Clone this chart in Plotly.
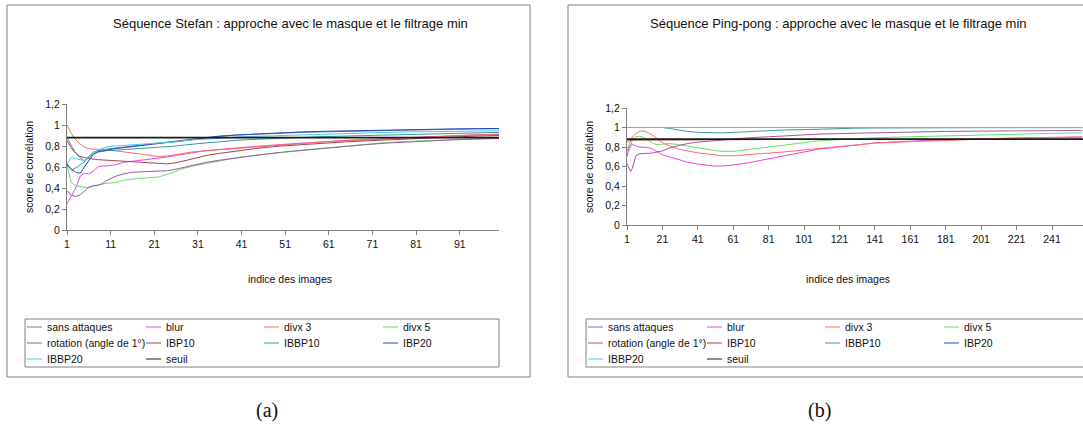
"""Séquences Stefan / Ping-pong : score de corrélation, masque + filtrage min."""
import plotly.graph_objects as go

W, H = 1083, 434

NAMES = ["sans attaques", "blur", "divx 3", "divx 5", "rotation (angle de 1°)",
         "IBP10", "IBBP10", "IBP20", "IBBP20", "seuil"]
COLORS = ["#7474b4", "#ee44dd", "#ff6a6a", "#66e066", "#a05aa0",
          "#a04848", "#3a9a9a", "#2a44cc", "#40d0e0", "#1a1a1a"]

Y_TICK_VALS = [0, 0.2, 0.4, 0.6, 0.8, 1.0, 1.2]
Y_TICK_TEXT = ["0", "0,2", "0,4", "0,6", "0,8", "1", "1,2"]

# ---- (a) Stefan ----
A_TICKS = [1, 11, 21, 31, 41, 51, 61, 71, 81, 91]
A_X = [1, 2, 3, 4, 5, 6, 7, 8, 9, 10, 12, 14, 16, 18, 20, 22, 24, 26, 28, 30,
       33, 36, 40, 45, 50, 55, 60, 65, 70, 75, 80, 85, 90, 95, 100]
A_SANS = [.88, .80, .73, .69, .66, .70, .74, .755, .765, .77, .78, .79, .80, .81, .82, .83, .84, .85, .86, .87,
          .885, .895, .905, .915, .925, .93, .935, .94, .945, .95, .955, .958, .96, .963, .965]
A_BLUR = [.25, .33, .40, .51, .54, .535, .56, .60, .61, .61, .62, .645, .655, .66, .675, .685, .695, .71, .725, .74,
          .757, .768, .784, .799, .814, .829, .844, .854, .864, .874, .884, .894, .899, .908, .913]
A_DIVX3 = [1.0, .92, .86, .82, .79, .775, .77, .77, .77, .765, .755, .745, .735, .725, .71, .70, .705, .72, .735, .745,
           .755, .765, .78, .795, .81, .825, .84, .85, .86, .87, .88, .89, .895, .905, .91]
A_DIVX5 = [.615, .45, .42, .415, .41, .40, .42, .43, .435, .445, .45, .475, .485, .49, .495, .505, .53, .56, .59, .61,
           .635, .66, .69, .715, .74, .76, .78, .80, .82, .835, .845, .855, .862, .868, .875]
A_ROT = [.375, .33, .32, .335, .37, .41, .42, .425, .44, .47, .51, .535, .55, .555, .56, .56, .565, .58, .60, .62,
         .645, .665, .69, .715, .74, .76, .78, .795, .815, .83, .842, .852, .86, .866, .872]
A_IBP10 = [.85, .78, .73, .70, .69, .68, .675, .67, .67, .665, .66, .655, .65, .64, .635, .63, .63, .64, .66, .685,
           .71, .73, .755, .78, .80, .815, .83, .84, .85, .86, .87, .88, .89, .895, .90]
A_IBBP10 = [.62, .57, .59, .62, .65, .69, .72, .74, .75, .755, .76, .765, .77, .775, .78, .785, .79, .80, .81, .82,
            .83, .84, .855, .865, .875, .883, .89, .895, .90, .905, .91, .915, .92, .925, .93]
A_IBP20 = [.63, .58, .55, .54, .60, .66, .72, .745, .755, .76, .775, .785, .795, .805, .815, .825, .835, .845, .855, .865,
           .88, .892, .905, .917, .928, .935, .94, .945, .95, .953, .956, .96, .963, .965, .967]
A_IBBP20 = [.63, .69, .68, .67, .66, .69, .73, .76, .775, .79, .80, .805, .81, .815, .82, .825, .83, .84, .85, .86,
            .865, .875, .885, .893, .90, .908, .915, .92, .925, .93, .935, .938, .941, .943, .945]
A_SEUIL_X = [1, 100]
A_SEUIL = [0.88, 0.88]

# ---- (b) Ping-pong ----
B_TICKS = [1, 21, 41, 61, 81, 101, 121, 141, 161, 181, 201, 221, 241]
B_X = [1, 2, 3, 4, 5, 6, 8, 10, 12, 14, 16, 18, 21, 25, 30, 35, 41, 50, 55, 61,
       70, 81, 90, 101, 110, 121, 130, 141, 161, 181, 201, 221, 241, 258]
B_SANS = [1.0] * 34
B_BLUR = [.70, .78, .82, .825, .82, .81, .80, .80, .795, .79, .775, .75, .72, .70, .67, .645, .625, .605, .605, .615,
          .64, .68, .715, .755, .78, .80, .822, .842, .86, .874, .884, .893, .898, .904]
B_DIVX3 = [.77, .82, .87, .90, .92, .94, .96, .965, .955, .935, .915, .885, .845, .81, .78, .76, .74, .72, .71, .71,
           .72, .735, .75, .77, .785, .805, .825, .84, .855, .87, .88, .89, .895, .90]
B_DIVX5 = [.77, .75, .80, .87, .89, .905, .91, .90, .88, .86, .835, .825, .83, .835, .825, .81, .785, .765, .755, .755,
           .775, .80, .825, .85, .865, .875, .885, .895, .905, .915, .925, .935, .94, .945]
B_ROT = [.63, .58, .55, .58, .66, .71, .73, .735, .735, .735, .74, .745, .76, .79, .815, .835, .85, .865, .875, .885,
         .895, .905, .915, .925, .933, .938, .942, .948, .955, .96, .963, .966, .968, .97]
B_IBP10 = [.86, .865, .868, .87, .87, .87, .87, .87, .87, .87, .87, .87, .87, .871, .871, .872, .872, .873, .874, .875,
           .876, .877, .877, .878, .878, .879, .879, .88, .88, .88, .88, .88, .88, .88]
B_IBBP10 = [1.0, 1.0, 1.0, 1.0, 1.0, 1.0, 1.0, 1.0, 1.0, 1.0, 1.0, 1.0, 1.0, .99, .975, .96, .95, .945, .945, .95,
            .96, .97, .975, .978, .985, .99, .993, .995, .998, .998, .998, .998, .998, .998]
B_IBP20 = [1.0, 1.0, 1.0, 1.0, 1.0, 1.0, 1.0, 1.0, 1.0, 1.0, 1.0, 1.0, 1.0, 1.0, 1.0, 1.0, .995, .995, .995, .995,
           .995, .995, .995, .995, .995, .995, 1.0, 1.0, 1.0, 1.0, 1.0, 1.0, 1.0, 1.0]
B_IBBP20 = [1.0] * 34
B_SEUIL_X = [1, 258.5]
B_SEUIL = [0.88, 0.88]


def px(x):
    return x / W


def py(y):
    return 1 - y / H


A_SERIES = [A_SANS, A_BLUR, A_DIVX3, A_DIVX5, A_ROT, A_IBP10, A_IBBP10, A_IBP20, A_IBBP20]
B_SERIES = [B_SANS, B_BLUR, B_DIVX3, B_DIVX5, B_ROT, B_IBP10, B_IBBP10, B_IBP20, B_IBBP20]

fig = go.Figure()
for xa, ya, xs, series, sx, sy in (("x", "y", A_X, A_SERIES, A_SEUIL_X, A_SEUIL),
                                   ("x2", "y2", B_X, B_SERIES, B_SEUIL_X, B_SEUIL)):
    for name, c, ys in zip(NAMES, COLORS, series):
        fig.add_trace(go.Scatter(x=xs, y=ys, name=name, mode="lines", xaxis=xa, yaxis=ya,
                                 line=dict(color=c, width=1), showlegend=False))
    fig.add_trace(go.Scatter(x=sx, y=sy, name="seuil", mode="lines", xaxis=xa, yaxis=ya,
                             line=dict(color=COLORS[-1], width=1.7), showlegend=False))

FONT = "Liberation Sans, Arial, sans-serif"
ax = dict(showline=True, linecolor="#808080", linewidth=1, ticks="outside", ticklen=4,
          tickcolor="#808080", showgrid=False, zeroline=False, automargin=False,
          tickfont=dict(family=FONT, size=10.5, color="#111"))
fig.update_layout(
    width=W, height=H, margin=dict(l=0, r=0, t=0, b=0, pad=0, autoexpand=False),
    paper_bgcolor="white", plot_bgcolor="white", showlegend=False,
    xaxis=dict(ax, domain=[px(67), px(499)], range=[1, 100], tickvals=A_TICKS, anchor="y"),
    yaxis=dict(ax, domain=[py(230), py(104)], range=[0, 1.2], tickvals=Y_TICK_VALS,
               ticktext=Y_TICK_TEXT, anchor="x"),
    xaxis2=dict(ax, domain=[px(627), 1.0], range=[1, 258.5], tickvals=B_TICKS, anchor="y2"),
    yaxis2=dict(ax, domain=[py(225), py(108)], range=[0, 1.2], tickvals=Y_TICK_VALS,
                ticktext=Y_TICK_TEXT, anchor="x2"),
)

shapes, notes = [], []


def box(x0, y0, x1, y1):
    shapes.append(dict(type="rect", xref="paper", yref="paper", x0=px(x0), x1=px(x1),
                       y0=py(y1), y1=py(y0), line=dict(color="#808080", width=1)))


def text(x, y, s, size=10.5, angle=0, xanchor="center", family=FONT):
    notes.append(dict(xref="paper", yref="paper", x=px(x), y=py(y), text=s, showarrow=False,
                      xanchor=xanchor, yanchor="middle", textangle=angle,
                      font=dict(family=family, size=size, color="#111")))


# chart frames and legend frames
box(7, 5, 530, 377)
box(568, 5, 1100, 377)
box(25, 319, 499, 367)
box(586, 319, 1100, 367)

text(290, 23, "Séquence Stefan : approche avec le masque et le filtrage min", size=13)
text(838, 23, "Séquence Ping-pong : approche avec le masque et le filtrage min", size=13)
text(290, 279, "indice des images")
text(848, 279, "indice des images")
text(29, 167, "score de corrélation", angle=-90)
text(589, 167, "score de corrélation", angle=-90)
text(267, 410, "(a)", size=20, family="Liberation Serif, Times New Roman, serif")
text(819, 410, "(b)", size=20, family="Liberation Serif, Times New Roman, serif")

# legends
COL_OFF = [2, 121, 239, 358]
ROW_Y = [327, 343, 359]
for left in (25, 586):
    for i, (name, c) in enumerate(zip(NAMES, COLORS)):
        x0 = left + COL_OFF[i % 4]
        y0 = ROW_Y[i // 4]
        shapes.append(dict(type="line", xref="paper", yref="paper", x0=px(x0), x1=px(x0 + 15),
                           y0=py(y0), y1=py(y0), line=dict(color=c, width=1)))
        text(x0 + 18, y0, name, xanchor="left")

fig.update_layout(shapes=shapes, annotations=notes)
# page body has a default 8px margin; drop it so the figure sits at (0, 0)
fig.write_html("out.html", config={"displayModeBar": False},
               post_script="document.body.style.margin='0';")
